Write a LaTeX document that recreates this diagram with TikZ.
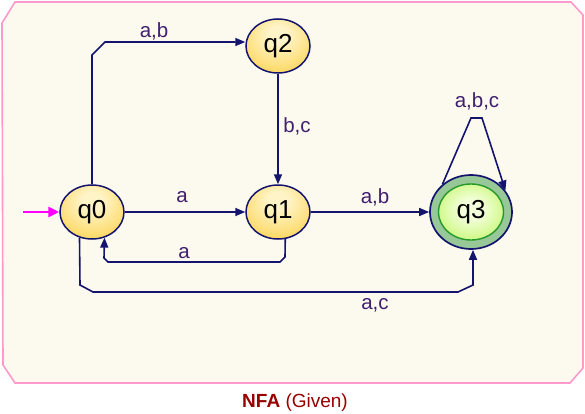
\documentclass[tikz,border=0pt]{standalone}
\usepackage{fontspec}
\setmainfont{Liberation Sans}
\usetikzlibrary{shapes.geometric,arrows.meta}
\definecolor{edgec}{HTML}{14146E}
\definecolor{framec}{HTML}{FF99CC}
\definecolor{bgc}{HTML}{FCFAEE}
\definecolor{labc}{HTML}{3F1F6F}
\definecolor{titlec}{HTML}{990000}
\definecolor{yelin}{HTML}{FFF4C8}
\definecolor{yelmid}{HTML}{FCDA6A}
\definecolor{yelout}{HTML}{F2BA28}
\definecolor{finout}{HTML}{98C898}
\definecolor{finring}{HTML}{22992A}
\definecolor{grin}{HTML}{F4FFDC}
\definecolor{grmid}{HTML}{CCF880}
\definecolor{grout}{HTML}{8EE632}
\definecolor{initc}{HTML}{FF00FF}
\pgfdeclareradialshading{yelball}{\pgfpoint{0bp}{12bp}}{color(0bp)=(yelin); color(8bp)=(yelin); color(30bp)=(yelmid); color(52bp)=(yelout); color(70bp)=(yelout)}
\pgfdeclareradialshading{grball}{\pgfpoint{0bp}{3bp}}{color(0bp)=(grin); color(8bp)=(grin); color(28bp)=(grmid); color(48bp)=(grout); color(70bp)=(grout)}
\tikzset{
  state/.style={ellipse, draw=edgec, line width=1.5pt, minimum width=64pt, minimum height=54pt,
    inner sep=0pt, shading=yelball, font=\fontsize{26}{30}\selectfont},
  finalstate/.style={ellipse, draw=edgec, line width=1.7pt, minimum width=82pt, minimum height=74pt,
    inner sep=0pt, fill=finout},
  finalinner/.style={ellipse, draw=finring, line width=1.4pt, minimum width=65pt, minimum height=56pt,
    inner sep=0pt, shading=grball, font=\fontsize{26}{30}\selectfont},
  edge/.style={draw=edgec, line width=1.6pt, -{Triangle[length=10pt,width=8pt]}},
  initarrow/.style={draw=initc, line width=2.8pt, -{Triangle[length=11pt,width=10pt]}},
  lab/.style={text=labc, font=\fontsize{20.5}{24}\selectfont, inner sep=0pt},
}
\begin{document}
\begin{tikzpicture}[x=1pt,y=-1pt]
\useasboundingbox (0,0) rectangle (585,414);
\draw[framec, fill=bgc, line width=1.6pt] (2,23) -- (15,2) -- (571,2) -- (583,15) -- (583,368) -- (570,383) -- (15,383) -- (3,365) -- cycle;

\node[state] (q0) at (92,212) {q0};
\node[state] (q2) at (278,46) {q2};
\node[state] (q1) at (278,212) {q1};
\node[finalstate] (q3) at (471,212) {};
\node[finalinner] (q3in) at (471,212) {q3};

\coordinate (start) at (23,212);
\draw[initarrow] (start) -- (q0.west);

\draw[edge] (q0.north) -- (92,55) -- (105,42) -- ([yshift=4pt]q2.west);
\draw[edge] (q2.south) -- (q1.north);
\draw[edge] (q0.east) -- (q1.west);
\draw[edge] (q1.-75) -- (285,257) -- (280,262) -- (108,262) -- (104,258) -- (q0.-64);
\draw[edge] (q1.east) -- (q3.west);
\draw[edge] (q0.-116) -- (80,285) -- (93,292) -- (458,292) -- (473,285) -- ([xshift=2pt]q3.south);
\draw[edge] (q3.136) -- (471,118) -- (482,118) -- (q3.32);

\node[lab] (l02) at (154,31) {a,b};
\node[lab] (l21) at (297,126) {b,c};
\node[lab] (l01) at (182,197) {a};
\node[lab] (l10) at (184,253) {a};
\node[lab] (l13) at (375,197) {a,b};
\node[lab] (l03) at (375,305) {a,c};
\node[lab] (l33) at (477,101) {a,b,c};

\node[text=titlec, font=\fontsize{19}{22}\selectfont, inner sep=0pt] (title) at (295,403) {\textbf{NFA} (Given)};
\end{tikzpicture}
\end{document}
